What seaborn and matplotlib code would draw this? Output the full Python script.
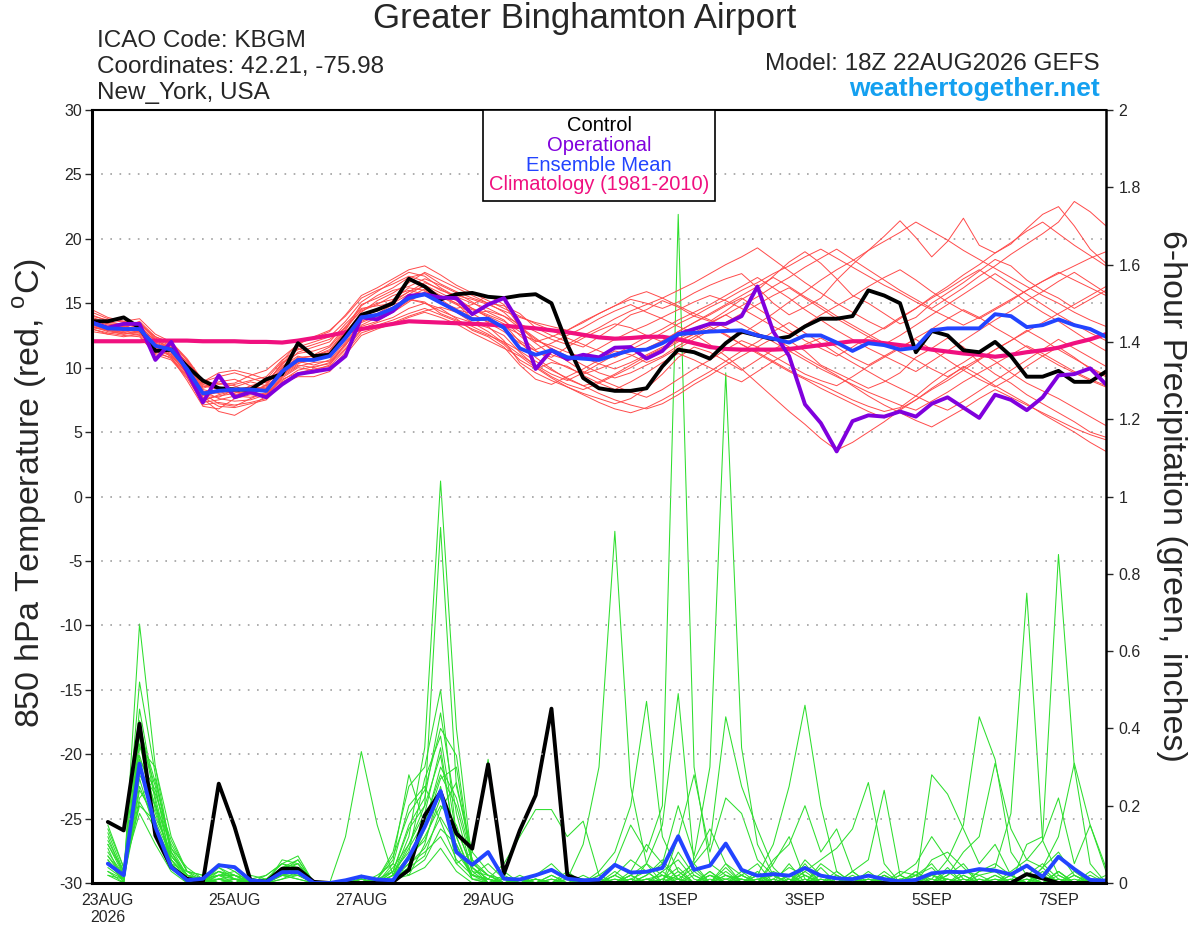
import numpy as np
import pandas as pd
import matplotlib.pyplot as plt
import seaborn as sns
from matplotlib.lines import Line2D

sns.set_style("white")
plt.rcParams['font.family'] = ['Liberation Sans', 'DejaVu Sans']
plt.rcParams['mathtext.fontset'] = 'custom'
plt.rcParams['mathtext.rm'] = 'Liberation Sans'
plt.rcParams['axes.unicode_minus'] = False

# 6-hourly forecast steps of the 18Z 22AUG2026 GEFS run
times = pd.date_range('2026-08-22 18:00', periods=65, freq='6h')
tick_days = ['2026-08-23', '2026-08-25', '2026-08-27', '2026-08-29',
             '2026-09-01', '2026-09-03', '2026-09-05', '2026-09-07']
tick_labels = ['23AUG\n2026', '25AUG', '27AUG', '29AUG', '1SEP', '3SEP', '5SEP', '7SEP']

# 850 hPa temperature (C)
control_t = [13.6, 13.6, 13.9, 13.1, 11.3, 11.4, 10.1, 9.0, 8.4, 8.3, 8.3, 9.1, 9.5, 11.9, 10.9, 11.0, 12.5, 14.1,
             14.5, 15.0, 16.9, 16.3, 15.3, 15.7, 15.8, 15.5, 15.4, 15.6, 15.7, 15.0, 11.8, 9.2, 8.4, 8.2, 8.2,
             8.4, 10.1, 11.4, 11.2, 10.7, 11.9, 12.8, 12.5, 12.2, 12.4, 13.2, 13.8, 13.8, 14.0, 16.0,
             15.6, 15.0, 11.2, 12.85, 12.5, 11.35, 11.2, 12.0, 10.9, 9.3, 9.3, 9.75, 8.9, 8.9, 9.7]
oper_t = [13.5, 13.1, 13.4, 13.4, 10.6, 12.0, 9.7, 7.3, 9.4, 7.7, 8.1, 7.7, 8.7, 9.5, 9.7, 9.9, 10.9, 13.9,
          13.75, 14.4, 15.57, 15.7, 15.44, 15.4, 14.15, 14.9, 15.4, 13.4, 9.9, 11.35, 10.65, 11.0, 10.8, 11.55, 11.6,
          10.7, 11.3, 12.6, 13.0, 13.4, 13.4, 14.0, 16.3, 12.8, 10.9, 7.15, 5.7, 3.5, 5.85, 6.3,
          6.2, 6.6, 6.2, 7.2, 7.7, 6.9, 6.1, 7.9, 7.5, 6.7, 7.7, 9.4, 9.5, 9.95, 8.7]
mean_t = [13.5, 13.05, 13.0, 13.0, 11.7, 11.4, 9.9, 8.0, 8.2, 8.3, 8.3, 8.2, 9.7, 10.6, 10.6, 10.9, 12.3, 13.9,
          14.1, 14.6, 15.4, 15.7, 15.05, 14.4, 13.75, 13.8, 13.1, 11.5, 11.0, 11.35, 10.8, 10.7, 10.6, 11.0, 11.35,
          11.4, 11.9, 12.6, 12.7, 12.8, 12.85, 12.9, 12.5, 12.25, 11.95, 12.5, 12.5, 11.95, 11.3, 11.9,
          11.75, 11.4, 11.55, 12.9, 13.05, 13.05, 13.05, 14.15, 14.0, 13.15, 13.3, 13.75, 13.3, 13.0, 12.4]
clim_t = [12.05, 12.05, 12.05, 12.05, 12.1, 12.1, 12.1, 12.05, 12.05, 12.05, 12.0, 12.0, 11.95, 12.1, 12.3, 12.5, 12.75, 13.0,
          13.2, 13.4, 13.6, 13.55, 13.5, 13.45, 13.4, 13.35, 13.25, 13.15, 13.05, 12.9, 12.75, 12.55, 12.35, 12.25, 12.3,
          12.4, 12.4, 12.2, 11.9, 11.6, 11.45, 11.4, 11.4, 11.4, 11.45, 11.6, 11.75, 11.9, 12.05, 12.05,
          11.9, 11.75, 11.6, 11.4, 11.25, 11.1, 11.0, 10.85, 11.0, 11.2, 11.35, 11.55, 11.9, 12.2, 12.6]

t01 = [13.8, 13.4, 13.2, 12.9, 11.5, 11.0, 9.5, 7.5, 7.8, 8.0, 8.6, 8.9, 10.2, 11.5, 11.0, 11.6, 13.0, 14.5,
       15.0, 15.3, 16.2, 16.0, 15.1, 14.6, 14.9, 15.6, 14.9, 13.2, 12.0, 12.4, 12.9, 13.6, 14.2, 14.8, 15.3,
       15.0, 14.6, 15.1, 15.8, 16.4, 16.9, 17.3, 16.2, 15.0, 14.1, 14.7, 15.4, 16.8, 18.0, 19.1,
       20.2, 21.4, 20.1, 18.6, 19.8, 21.6, 19.5, 18.9, 19.6, 20.8, 21.9, 22.5, 21.0, 19.2, 18.1]
t02 = [13.2, 12.8, 12.6, 12.9, 11.9, 10.8, 9.0, 7.0, 6.8, 7.6, 7.9, 7.8, 9.3, 10.1, 10.4, 10.5, 11.8, 13.2,
       13.6, 14.3, 15.1, 15.9, 15.6, 15.0, 13.8, 13.2, 12.1, 10.4, 9.6, 9.0, 8.5, 8.0, 7.6, 7.2, 7.6,
       8.4, 9.5, 10.8, 11.6, 11.2, 10.5, 9.8, 10.6, 11.4, 12.1, 11.3, 10.2, 9.6, 9.0, 8.4,
       8.9, 9.6, 10.8, 11.5, 12.3, 11.6, 10.4, 9.5, 8.8, 7.9, 7.2, 6.5, 5.8, 5.0, 4.6]
t03 = [14.1, 13.6, 13.3, 13.5, 12.3, 11.8, 10.4, 8.8, 8.5, 8.1, 8.0, 8.4, 9.9, 10.8, 10.9, 11.4, 12.9, 14.8,
       15.6, 16.2, 17.0, 17.3, 16.5, 15.9, 15.4, 15.0, 14.8, 14.2, 13.1, 12.5, 12.0, 11.6, 12.4, 13.2, 14.1,
       14.5, 15.2, 14.7, 14.0, 13.6, 14.4, 15.3, 16.0, 17.1, 18.2, 19.0, 18.1, 16.9, 15.6, 15.0,
       14.2, 13.4, 13.9, 15.0, 15.8, 16.6, 17.5, 18.4, 17.9, 16.8, 16.0, 15.4, 14.6, 15.3, 16.0]
t04 = [13.0, 12.6, 12.9, 12.8, 11.2, 11.3, 10.0, 8.2, 7.6, 7.4, 7.5, 7.9, 9.0, 9.8, 10.1, 10.3, 11.5, 13.0,
       13.5, 13.9, 14.6, 15.0, 14.6, 13.8, 12.9, 12.4, 11.6, 10.2, 9.1, 8.7, 9.3, 9.9, 10.6, 11.3, 11.0,
       10.4, 10.9, 11.7, 12.4, 13.0, 12.6, 11.8, 11.2, 10.5, 9.8, 9.2, 8.7, 8.1, 7.5, 7.0,
       6.6, 6.9, 7.8, 8.8, 9.7, 10.4, 11.2, 10.5, 9.6, 8.8, 8.2, 7.6, 6.9, 6.2, 5.5]
t05 = [13.6, 13.2, 13.0, 13.3, 12.0, 11.5, 10.2, 8.5, 8.9, 9.1, 8.6, 8.3, 10.0, 11.2, 11.6, 12.0, 13.4, 14.6,
       14.8, 15.0, 15.7, 16.4, 15.8, 15.2, 14.6, 14.1, 13.6, 12.8, 11.9, 11.0, 10.6, 10.9, 11.5, 12.2, 12.8,
       13.3, 13.9, 14.5, 15.1, 15.6, 15.2, 14.6, 13.9, 13.2, 12.6, 13.3, 14.1, 14.8, 15.5, 16.3,
       17.0, 17.6, 16.8, 15.9, 15.1, 14.4, 13.8, 14.5, 15.2, 16.0, 16.7, 17.3, 17.9, 18.5, 19.0]
t06 = [13.9, 13.5, 13.4, 13.1, 11.8, 11.2, 9.8, 8.0, 7.2, 7.0, 7.6, 8.1, 9.5, 10.3, 10.8, 11.2, 12.6, 13.8,
       14.2, 14.9, 15.3, 15.1, 14.2, 13.7, 13.2, 12.6, 11.8, 10.6, 9.9, 10.4, 10.1, 9.4, 8.8, 8.3, 8.9,
       9.6, 10.4, 11.1, 10.6, 10.0, 9.4, 8.9, 9.7, 10.5, 11.2, 11.8, 12.3, 11.6, 10.8, 10.2,
       10.9, 11.6, 12.2, 11.4, 10.6, 9.8, 9.1, 8.5, 9.2, 10.1, 10.9, 11.6, 10.8, 9.9, 9.3]
t07 = [12.8, 12.6, 12.4, 12.6, 11.4, 10.9, 9.6, 7.8, 8.1, 8.5, 8.9, 8.6, 9.4, 10.5, 10.2, 10.6, 12.0, 13.5,
       14.0, 14.4, 15.2, 15.8, 15.5, 14.9, 14.2, 13.5, 12.8, 11.9, 11.3, 10.8, 11.6, 12.3, 12.9, 13.4, 13.1,
       12.5, 12.0, 12.8, 13.5, 14.1, 14.8, 15.4, 14.6, 13.8, 12.9, 12.1, 11.5, 10.9, 11.6, 12.4,
       13.1, 13.9, 14.6, 15.4, 16.1, 16.9, 17.6, 16.8, 16.0, 15.1, 14.3, 13.6, 12.8, 12.0, 11.3]
t08 = [14.3, 13.8, 13.5, 13.2, 12.1, 11.6, 10.3, 8.6, 8.3, 7.9, 8.2, 8.6, 10.1, 10.9, 10.5, 11.0, 12.7, 14.3,
       15.2, 15.8, 16.6, 17.4, 16.8, 16.2, 15.6, 15.0, 14.3, 13.2, 12.3, 11.4, 10.5, 9.7, 9.1, 8.6, 8.1,
       7.7, 8.3, 9.1, 9.9, 10.6, 11.4, 12.1, 11.6, 10.9, 10.2, 9.5, 9.0, 8.6, 9.3, 10.1,
       10.8, 11.5, 12.3, 13.0, 13.8, 14.5, 13.9, 13.1, 12.4, 11.6, 10.9, 10.2, 9.6, 9.0, 8.5]
t09 = [13.4, 13.0, 12.8, 12.7, 11.6, 11.1, 9.7, 7.6, 6.6, 6.3, 7.0, 7.8, 9.2, 10.0, 9.8, 10.2, 11.9, 13.3,
       13.9, 14.6, 15.5, 16.1, 15.3, 14.5, 13.9, 13.6, 13.2, 12.6, 12.1, 11.7, 11.2, 10.8, 10.3, 9.9, 10.4,
       11.0, 11.6, 12.2, 12.9, 13.5, 14.1, 13.4, 12.7, 12.0, 11.3, 10.6, 9.9, 9.3, 8.7, 8.1,
       7.6, 7.1, 6.7, 7.4, 8.1, 8.9, 9.6, 10.3, 11.0, 11.7, 11.1, 10.4, 9.7, 9.1, 8.6]
t10 = [13.7, 13.3, 13.1, 13.6, 12.4, 11.9, 10.6, 8.9, 9.3, 9.6, 9.2, 8.8, 10.3, 11.6, 12.0, 12.4, 13.6, 15.1,
       15.9, 16.7, 17.4, 17.1, 16.2, 15.5, 15.0, 14.6, 14.0, 13.4, 12.8, 12.2, 11.8, 12.5, 13.1, 13.8, 14.4,
       14.9, 15.4, 16.0, 16.6, 17.3, 18.0, 18.6, 19.3, 18.4, 17.5, 16.6, 15.8, 15.0, 14.3, 13.6,
       13.0, 13.8, 14.6, 15.5, 16.3, 17.2, 18.0, 18.9, 19.7, 20.6, 21.3, 20.4, 19.5, 18.7, 17.9]
t11 = [13.1, 12.9, 12.7, 12.5, 11.0, 10.6, 9.2, 7.3, 7.5, 7.8, 7.7, 8.0, 9.1, 9.6, 9.9, 10.1, 11.4, 12.9,
       13.3, 13.7, 14.2, 14.6, 14.1, 13.6, 13.0, 12.5, 12.0, 11.3, 10.5, 9.8, 9.2, 8.6, 8.0, 7.5, 7.1,
       6.8, 7.2, 7.9, 8.7, 9.4, 10.2, 10.9, 11.6, 12.3, 11.6, 10.8, 10.1, 9.4, 8.6, 7.8,
       7.1, 6.5, 5.9, 5.4, 6.1, 6.8, 7.6, 8.3, 7.7, 7.1, 6.5, 5.9, 5.3, 4.8, 4.4]
t12 = [13.5, 13.1, 12.9, 13.0, 11.7, 11.3, 10.0, 8.3, 8.0, 8.3, 8.5, 8.4, 9.8, 10.7, 10.9, 11.3, 12.8, 14.0,
       14.4, 15.1, 15.9, 16.3, 15.6, 15.0, 14.5, 14.0, 13.4, 12.0, 10.8, 9.9, 9.1, 8.6, 8.9, 9.5, 10.2,
       10.9, 11.5, 12.1, 12.6, 11.8, 10.9, 9.9, 8.8, 7.7, 6.6, 5.6, 4.5, 3.6, 4.2, 5.0,
       5.8, 6.7, 7.5, 8.4, 9.2, 10.1, 9.4, 8.6, 7.9, 7.2, 6.4, 5.7, 5.0, 4.2, 3.5]
t13 = [14.0, 13.7, 13.6, 13.8, 12.6, 12.0, 10.7, 9.0, 8.7, 8.8, 9.4, 9.8, 10.8, 11.8, 12.4, 12.9, 14.0, 15.4,
       16.0, 16.5, 17.1, 16.7, 16.0, 15.6, 15.3, 14.9, 14.4, 13.9, 13.5, 13.2, 12.9, 13.5, 14.2, 14.8, 15.5,
       15.9, 15.4, 14.8, 14.2, 13.7, 13.1, 12.6, 13.4, 14.2, 15.1, 15.9, 16.8, 17.6, 18.3, 19.1,
       19.8, 20.5, 21.3, 20.6, 19.9, 19.1, 18.4, 17.7, 17.0, 16.3, 15.6, 15.0, 14.3, 13.7, 13.2]
t14 = [13.3, 12.9, 13.0, 12.8, 11.3, 10.7, 9.3, 7.1, 7.3, 7.1, 7.3, 7.6, 8.9, 9.5, 9.6, 9.9, 11.2, 12.7,
       13.1, 13.5, 14.0, 14.4, 14.7, 14.3, 13.5, 12.8, 11.9, 11.0, 10.2, 9.5, 9.0, 9.6, 10.3, 11.0, 11.7,
       12.4, 13.0, 13.7, 14.3, 14.9, 15.6, 16.3, 17.0, 16.2, 15.4, 14.5, 13.7, 12.9, 12.2, 11.5,
       10.9, 10.3, 9.7, 10.5, 11.3, 12.1, 12.9, 13.7, 14.4, 15.2, 15.9, 16.7, 17.4, 16.6, 15.8]
t15 = [13.8, 13.4, 13.3, 12.9, 12.2, 11.7, 10.1, 8.4, 8.8, 8.6, 8.0, 8.7, 10.4, 11.1, 11.3, 11.7, 13.2, 14.4,
       14.9, 15.6, 16.0, 15.7, 15.0, 14.5, 14.2, 14.4, 14.0, 13.1, 12.2, 11.5, 10.9, 10.2, 9.6, 9.2, 9.6,
       10.2, 10.8, 11.5, 12.2, 12.9, 13.5, 14.2, 14.9, 15.6, 16.2, 15.4, 14.6, 13.8, 13.1, 12.4,
       11.8, 12.5, 13.3, 14.1, 14.9, 15.7, 16.5, 17.3, 16.5, 15.7, 14.9, 14.1, 13.4, 12.7, 12.1]
t16 = [13.0, 12.7, 12.5, 12.4, 11.1, 10.8, 9.4, 7.7, 7.0, 6.9, 7.2, 7.5, 8.8, 9.3, 9.3, 9.7, 11.0, 12.5,
       13.0, 13.4, 13.9, 14.3, 13.9, 13.4, 12.7, 12.1, 11.5, 10.9, 10.0, 9.2, 8.5, 7.9, 7.3, 6.8, 6.5,
       6.9, 7.5, 8.2, 9.0, 9.7, 10.5, 11.3, 12.0, 12.8, 13.5, 12.7, 11.9, 11.1, 10.4, 9.7,
       9.0, 8.4, 7.8, 7.2, 6.7, 7.4, 8.2, 9.0, 9.8, 10.6, 11.4, 12.2, 11.5, 10.8, 10.1]
t17 = [13.6, 13.1, 13.2, 13.4, 12.2, 11.4, 10.5, 8.7, 8.4, 8.7, 9.0, 9.3, 10.6, 11.4, 11.8, 12.2, 13.1, 14.9,
       15.4, 16.0, 16.3, 16.9, 16.4, 15.8, 15.1, 14.3, 13.7, 12.5, 11.4, 11.9, 12.5, 13.1, 13.8, 14.4, 14.9,
       14.3, 13.8, 13.2, 12.7, 13.4, 14.1, 14.8, 15.5, 16.3, 17.0, 17.8, 18.5, 19.2, 18.4, 17.6,
       16.8, 16.0, 15.3, 14.6, 15.4, 16.2, 17.1, 17.9, 18.8, 19.6, 20.4, 21.3, 22.9, 22.1, 21.0]
t18 = [13.2, 12.9, 12.6, 12.7, 11.5, 11.0, 9.6, 7.9, 7.7, 8.3, 8.1, 7.9, 9.4, 10.2, 10.0, 10.4, 11.7, 13.6,
       14.1, 14.7, 15.3, 15.0, 14.4, 13.9, 13.5, 13.1, 12.5, 11.2, 10.1, 9.3, 8.7, 8.3, 8.8, 9.4, 10.0,
       10.7, 11.3, 12.0, 12.6, 13.2, 12.5, 11.8, 11.1, 10.4, 9.7, 9.1, 8.4, 7.8, 7.2, 6.6,
       6.1, 6.8, 7.5, 8.3, 9.0, 9.8, 10.6, 11.4, 12.1, 12.9, 12.2, 11.4, 10.7, 10.0, 9.4]
t19 = [14.5, 13.9, 13.6, 13.4, 12.4, 11.9, 10.6, 8.9, 9.6, 9.8, 9.5, 9.1, 10.5, 11.9, 12.3, 12.8, 14.1, 15.6,
       16.2, 16.9, 17.6, 17.9, 17.2, 16.4, 15.8, 15.2, 14.6, 14.0, 13.4, 12.9, 12.3, 11.8, 11.3, 10.8, 11.4,
       12.0, 12.7, 13.4, 14.0, 14.7, 15.3, 16.0, 16.6, 17.3, 17.9, 18.6, 19.2, 18.5, 17.8, 17.1,
       16.4, 15.8, 15.1, 14.5, 13.9, 13.3, 13.9, 14.6, 15.3, 16.0, 16.7, 17.4, 16.8, 16.2, 15.6]
t20 = [13.4, 13.0, 12.7, 13.1, 11.9, 11.5, 9.9, 7.4, 7.9, 8.2, 8.3, 8.5, 9.6, 10.4, 10.7, 11.1, 12.4, 13.9,
       14.5, 15.2, 15.9, 16.6, 16.1, 15.4, 14.6, 13.9, 13.0, 12.1, 11.3, 10.6, 10.0, 9.5, 9.9, 10.4, 10.9,
       11.5, 12.1, 12.8, 13.5, 14.2, 14.9, 15.6, 16.3, 17.0, 16.3, 15.5, 14.8, 14.0, 13.3, 12.6,
       11.9, 11.2, 10.6, 9.9, 9.3, 10.0, 10.7, 11.4, 12.1, 12.8, 13.5, 14.2, 14.9, 15.6, 16.3]

# 6-hour precipitation (inches), valid from the first step onward
control_p = [0.158, 0.136, 0.412, 0.123, 0.041, 0.011, 0.003, 0.257, 0.145, 0.007, 0.003, 0.037, 0.037, 0.003, 0.0, 0.0,
             0.0, 0.0, 0.003, 0.034, 0.175, 0.235, 0.128, 0.089, 0.307, 0.024, 0.136, 0.227, 0.451, 0.02, 0.005, 0.0,
             0.0, 0.0, 0.0, 0.0, 0.0, 0.0, 0.0, 0.0, 0.0, 0.0, 0.0, 0.0, 0.0, 0.0, 0.0, 0.0,
             0.0, 0.0, 0.0, 0.0, 0.0, 0.0, 0.0, 0.0, 0.0, 0.0, 0.023, 0.012, 0.0, 0.0, 0.0, 0.0]
mean_p = [0.05, 0.02, 0.309, 0.145, 0.041, 0.007, 0.011, 0.046, 0.041, 0.007, 0.003, 0.028, 0.028, 0.0, 0.0, 0.007,
          0.017, 0.009, 0.007, 0.067, 0.145, 0.238, 0.08, 0.047, 0.08, 0.011, 0.009, 0.02, 0.034, 0.011, 0.007, 0.009,
          0.047, 0.027, 0.029, 0.039, 0.121, 0.034, 0.045, 0.102, 0.034, 0.019, 0.023, 0.019, 0.039, 0.019, 0.012, 0.010,
          0.019, 0.01, 0.004, 0.008, 0.025, 0.029, 0.028, 0.036, 0.032, 0.022, 0.045, 0.016, 0.068, 0.036, 0.008, 0.006]

p01 = [0.05, 0.01, 0.67, 0.30, 0.08, 0.02, 0.01, 0.03, 0.02, 0.00, 0.00, 0.03, 0.05, 0.00, 0.00, 0.00,
       0.01, 0.00, 0.02, 0.12, 0.35, 1.04, 0.40, 0.05, 0.02, 0.00, 0.00, 0.01, 0.00, 0.00, 0.00, 0.00,
       0.00, 0.02, 0.05, 0.00, 0.08, 0.02, 0.00, 0.04, 0.00, 0.00, 0.01, 0.00, 0.06, 0.02, 0.00, 0.00,
       0.00, 0.03, 0.00, 0.00, 0.00, 0.02, 0.05, 0.00, 0.00, 0.01, 0.00, 0.04, 0.00, 0.02, 0.00, 0.00]
p02 = [0.10, 0.03, 0.45, 0.22, 0.06, 0.01, 0.00, 0.02, 0.01, 0.01, 0.00, 0.04, 0.06, 0.00, 0.00, 0.00,
       0.00, 0.01, 0.08, 0.25, 0.30, 0.50, 0.12, 0.02, 0.05, 0.01, 0.00, 0.00, 0.01, 0.00, 0.00, 0.02,
       0.05, 0.15, 0.08, 0.20, 1.73, 0.30, 0.05, 0.02, 0.01, 0.00, 0.03, 0.01, 0.00, 0.05, 0.02, 0.00,
       0.01, 0.00, 0.00, 0.00, 0.02, 0.01, 0.00, 0.03, 0.05, 0.02, 0.00, 0.00, 0.03, 0.00, 0.01, 0.00]
p03 = [0.03, 0.00, 0.38, 0.25, 0.05, 0.01, 0.01, 0.05, 0.03, 0.00, 0.01, 0.02, 0.03, 0.00, 0.00, 0.00,
       0.02, 0.00, 0.02, 0.10, 0.20, 0.92, 0.25, 0.08, 0.03, 0.00, 0.01, 0.00, 0.00, 0.02, 0.00, 0.00,
       0.00, 0.03, 0.10, 0.05, 0.20, 0.07, 0.30, 1.32, 0.35, 0.10, 0.02, 0.00, 0.04, 0.00, 0.00, 0.03,
       0.00, 0.01, 0.00, 0.02, 0.05, 0.00, 0.00, 0.01, 0.00, 0.00, 0.02, 0.05, 0.01, 0.00, 0.00, 0.02]
p04 = [0.15, 0.04, 0.30, 0.18, 0.07, 0.02, 0.00, 0.01, 0.00, 0.01, 0.02, 0.05, 0.04, 0.00, 0.00, 0.00,
       0.00, 0.02, 0.05, 0.02, 0.10, 0.25, 0.05, 0.01, 0.01, 0.00, 0.00, 0.02, 0.05, 0.01, 0.10, 0.30,
       0.91, 0.25, 0.05, 0.02, 0.01, 0.04, 0.00, 0.01, 0.02, 0.00, 0.05, 0.12, 0.01, 0.00, 0.00, 0.00,
       0.03, 0.00, 0.01, 0.00, 0.00, 0.04, 0.00, 0.00, 0.02, 0.00, 0.01, 0.00, 0.00, 0.03, 0.00, 0.00]
p05 = [0.08, 0.02, 0.28, 0.20, 0.10, 0.03, 0.02, 0.04, 0.02, 0.00, 0.00, 0.06, 0.05, 0.00, 0.00, 0.00,
       0.01, 0.00, 0.03, 0.15, 0.22, 0.44, 0.18, 0.03, 0.00, 0.01, 0.00, 0.00, 0.02, 0.00, 0.00, 0.01,
       0.00, 0.00, 0.02, 0.05, 0.01, 0.00, 0.03, 0.00, 0.02, 0.05, 0.00, 0.01, 0.00, 0.02, 0.00, 0.01,
       0.00, 0.02, 0.00, 0.00, 0.06, 0.08, 0.04, 0.00, 0.01, 0.00, 0.10, 0.12, 0.85, 0.30, 0.05, 0.00]
p06 = [0.02, 0.00, 0.40, 0.26, 0.09, 0.02, 0.00, 0.03, 0.01, 0.00, 0.01, 0.03, 0.02, 0.00, 0.00, 0.00,
       0.00, 0.01, 0.06, 0.28, 0.15, 0.30, 0.22, 0.06, 0.02, 0.00, 0.00, 0.01, 0.00, 0.00, 0.01, 0.00,
       0.02, 0.00, 0.00, 0.03, 0.06, 0.01, 0.00, 0.05, 0.00, 0.01, 0.02, 0.00, 0.03, 0.00, 0.00, 0.02,
       0.00, 0.00, 0.03, 0.02, 0.00, 0.01, 0.00, 0.03, 0.04, 0.18, 0.75, 0.11, 0.02, 0.00, 0.01, 0.00]
p07 = [0.06, 0.01, 0.33, 0.20, 0.05, 0.00, 0.01, 0.02, 0.03, 0.00, 0.00, 0.02, 0.04, 0.00, 0.00, 0.12,
       0.34, 0.15, 0.02, 0.05, 0.08, 0.12, 0.05, 0.08, 0.32, 0.03, 0.00, 0.01, 0.00, 0.00, 0.02, 0.00,
       0.00, 0.01, 0.00, 0.02, 0.00, 0.00, 0.01, 0.00, 0.00, 0.03, 0.00, 0.02, 0.00, 0.00, 0.01, 0.00,
       0.02, 0.00, 0.00, 0.01, 0.00, 0.00, 0.02, 0.00, 0.00, 0.00, 0.01, 0.00, 0.03, 0.00, 0.00, 0.01]
p08 = [0.12, 0.02, 0.25, 0.15, 0.06, 0.02, 0.01, 0.00, 0.00, 0.02, 0.01, 0.04, 0.03, 0.00, 0.00, 0.00,
       0.00, 0.00, 0.04, 0.10, 0.18, 0.35, 0.08, 0.02, 0.01, 0.05, 0.12, 0.19, 0.19, 0.12, 0.16, 0.02,
       0.00, 0.01, 0.03, 0.00, 0.02, 0.05, 0.00, 0.02, 0.00, 0.00, 0.01, 0.04, 0.02, 0.00, 0.00, 0.00,
       0.01, 0.00, 0.00, 0.03, 0.00, 0.00, 0.00, 0.01, 0.00, 0.02, 0.00, 0.00, 0.01, 0.00, 0.00, 0.00]
p09 = [0.04, 0.01, 0.35, 0.30, 0.12, 0.03, 0.00, 0.01, 0.02, 0.01, 0.00, 0.01, 0.02, 0.00, 0.00, 0.00,
       0.01, 0.00, 0.01, 0.04, 0.14, 0.27, 0.30, 0.04, 0.00, 0.00, 0.01, 0.00, 0.00, 0.01, 0.00, 0.03,
       0.08, 0.20, 0.47, 0.12, 0.03, 0.00, 0.02, 0.01, 0.00, 0.02, 0.10, 0.25, 0.46, 0.20, 0.03, 0.00,
       0.00, 0.01, 0.00, 0.00, 0.02, 0.00, 0.00, 0.00, 0.01, 0.00, 0.00, 0.02, 0.00, 0.00, 0.01, 0.00]
p10 = [0.09, 0.00, 0.32, 0.24, 0.08, 0.01, 0.01, 0.02, 0.00, 0.00, 0.02, 0.05, 0.07, 0.00, 0.00, 0.00,
       0.00, 0.01, 0.03, 0.08, 0.27, 0.38, 0.12, 0.01, 0.00, 0.02, 0.00, 0.00, 0.00, 0.00, 0.00, 0.00,
       0.03, 0.00, 0.05, 0.15, 0.49, 0.05, 0.10, 0.43, 0.25, 0.14, 0.04, 0.00, 0.02, 0.00, 0.03, 0.00,
       0.00, 0.00, 0.02, 0.00, 0.00, 0.00, 0.01, 0.00, 0.00, 0.00, 0.00, 0.01, 0.00, 0.02, 0.00, 0.00]
p11 = [0.07, 0.02, 0.22, 0.27, 0.09, 0.04, 0.01, 0.01, 0.01, 0.00, 0.00, 0.02, 0.03, 0.00, 0.00, 0.00,
       0.00, 0.00, 0.02, 0.06, 0.12, 0.20, 0.15, 0.03, 0.02, 0.00, 0.00, 0.00, 0.01, 0.00, 0.00, 0.01,
       0.00, 0.02, 0.00, 0.01, 0.04, 0.00, 0.02, 0.00, 0.01, 0.00, 0.02, 0.00, 0.03, 0.06, 0.09, 0.14,
       0.26, 0.05, 0.00, 0.02, 0.01, 0.06, 0.15, 0.43, 0.32, 0.08, 0.02, 0.00, 0.03, 0.00, 0.01, 0.00]
p12 = [0.11, 0.03, 0.20, 0.16, 0.07, 0.02, 0.01, 0.02, 0.02, 0.00, 0.01, 0.03, 0.04, 0.00, 0.00, 0.00,
       0.02, 0.00, 0.01, 0.05, 0.09, 0.17, 0.10, 0.02, 0.01, 0.00, 0.00, 0.00, 0.00, 0.03, 0.00, 0.00,
       0.02, 0.00, 0.01, 0.00, 0.00, 0.03, 0.00, 0.00, 0.02, 0.00, 0.00, 0.02, 0.00, 0.01, 0.00, 0.03,
       0.06, 0.24, 0.02, 0.00, 0.28, 0.23, 0.14, 0.05, 0.10, 0.02, 0.00, 0.03, 0.00, 0.00, 0.02, 0.00]
p13 = [0.03, 0.01, 0.42, 0.21, 0.04, 0.01, 0.00, 0.04, 0.01, 0.00, 0.00, 0.03, 0.06, 0.00, 0.00, 0.00,
       0.01, 0.00, 0.05, 0.20, 0.25, 0.16, 0.06, 0.02, 0.00, 0.00, 0.01, 0.00, 0.00, 0.00, 0.00, 0.02,
       0.00, 0.01, 0.00, 0.00, 0.02, 0.00, 0.00, 0.03, 0.00, 0.01, 0.00, 0.00, 0.02, 0.00, 0.00, 0.00,
       0.00, 0.02, 0.00, 0.03, 0.00, 0.02, 0.08, 0.12, 0.31, 0.14, 0.06, 0.04, 0.12, 0.31, 0.15, 0.03]
p14 = [0.06, 0.00, 0.27, 0.13, 0.05, 0.03, 0.02, 0.00, 0.00, 0.01, 0.00, 0.02, 0.01, 0.00, 0.00, 0.00,
       0.00, 0.01, 0.00, 0.03, 0.06, 0.14, 0.10, 0.01, 0.00, 0.01, 0.00, 0.00, 0.00, 0.01, 0.00, 0.00,
       0.01, 0.00, 0.02, 0.06, 0.01, 0.00, 0.02, 0.00, 0.03, 0.00, 0.00, 0.05, 0.00, 0.02, 0.00, 0.01,
       0.00, 0.00, 0.01, 0.02, 0.04, 0.00, 0.03, 0.02, 0.00, 0.03, 0.06, 0.11, 0.22, 0.05, 0.15, 0.04]
p15 = [0.14, 0.04, 0.18, 0.10, 0.03, 0.00, 0.00, 0.01, 0.00, 0.00, 0.01, 0.02, 0.02, 0.00, 0.00, 0.00,
       0.00, 0.00, 0.01, 0.02, 0.04, 0.09, 0.03, 0.00, 0.00, 0.00, 0.00, 0.01, 0.00, 0.00, 0.00, 0.00,
       0.00, 0.00, 0.00, 0.01, 0.00, 0.02, 0.00, 0.00, 0.00, 0.00, 0.00, 0.00, 0.01, 0.00, 0.02, 0.00,
       0.01, 0.00, 0.00, 0.00, 0.00, 0.01, 0.00, 0.00, 0.00, 0.01, 0.00, 0.00, 0.02, 0.00, 0.00, 0.00]
p16 = [0.05, 0.02, 0.36, 0.19, 0.06, 0.01, 0.00, 0.02, 0.02, 0.00, 0.00, 0.04, 0.05, 0.00, 0.00, 0.00,
       0.01, 0.00, 0.03, 0.14, 0.20, 0.33, 0.09, 0.02, 0.01, 0.00, 0.00, 0.00, 0.00, 0.00, 0.01, 0.00,
       0.02, 0.06, 0.03, 0.00, 0.12, 0.28, 0.08, 0.22, 0.18, 0.06, 0.02, 0.00, 0.00, 0.01, 0.00, 0.00,
       0.02, 0.00, 0.00, 0.00, 0.01, 0.00, 0.00, 0.00, 0.00, 0.00, 0.02, 0.00, 0.00, 0.01, 0.00, 0.00]
p17 = [0.02, 0.01, 0.24, 0.17, 0.08, 0.02, 0.01, 0.00, 0.01, 0.01, 0.00, 0.01, 0.03, 0.00, 0.00, 0.00,
       0.00, 0.00, 0.02, 0.07, 0.11, 0.22, 0.14, 0.04, 0.01, 0.00, 0.02, 0.00, 0.00, 0.00, 0.00, 0.00,
       0.01, 0.00, 0.00, 0.03, 0.00, 0.06, 0.14, 0.05, 0.02, 0.00, 0.06, 0.10, 0.20, 0.08, 0.14, 0.03,
       0.00, 0.02, 0.00, 0.00, 0.00, 0.00, 0.02, 0.00, 0.00, 0.00, 0.00, 0.02, 0.00, 0.00, 0.00, 0.01]
p18 = [0.10, 0.02, 0.29, 0.23, 0.11, 0.03, 0.01, 0.03, 0.01, 0.00, 0.01, 0.05, 0.03, 0.00, 0.00, 0.00,
       0.00, 0.00, 0.02, 0.09, 0.16, 0.28, 0.20, 0.05, 0.02, 0.01, 0.00, 0.00, 0.02, 0.00, 0.00, 0.00,
       0.00, 0.00, 0.01, 0.00, 0.03, 0.00, 0.00, 0.02, 0.00, 0.02, 0.00, 0.00, 0.00, 0.04, 0.00, 0.00,
       0.00, 0.00, 0.02, 0.05, 0.12, 0.06, 0.01, 0.00, 0.02, 0.00, 0.00, 0.04, 0.08, 0.02, 0.00, 0.00]
p19 = [0.07, 0.01, 0.21, 0.14, 0.04, 0.01, 0.00, 0.01, 0.00, 0.00, 0.00, 0.02, 0.01, 0.00, 0.00, 0.00,
       0.01, 0.00, 0.01, 0.04, 0.07, 0.19, 0.26, 0.06, 0.00, 0.00, 0.00, 0.01, 0.00, 0.00, 0.00, 0.00,
       0.00, 0.02, 0.00, 0.00, 0.01, 0.00, 0.00, 0.00, 0.01, 0.00, 0.00, 0.00, 0.00, 0.00, 0.02, 0.00,
       0.00, 0.00, 0.00, 0.00, 0.00, 0.03, 0.00, 0.00, 0.00, 0.02, 0.00, 0.00, 0.00, 0.00, 0.01, 0.00]
p20 = [0.13, 0.03, 0.52, 0.28, 0.07, 0.02, 0.01, 0.00, 0.01, 0.00, 0.00, 0.03, 0.04, 0.00, 0.00, 0.00,
       0.00, 0.01, 0.07, 0.18, 0.24, 0.40, 0.33, 0.04, 0.01, 0.00, 0.00, 0.00, 0.00, 0.00, 0.00, 0.01,
       0.00, 0.00, 0.01, 0.02, 0.00, 0.00, 0.03, 0.00, 0.00, 0.02, 0.00, 0.00, 0.05, 0.00, 0.00, 0.01,
       0.00, 0.00, 0.01, 0.00, 0.00, 0.00, 0.00, 0.02, 0.03, 0.00, 0.00, 0.00, 0.01, 0.00, 0.03, 0.00]

temp_members = [t01, t02, t03, t04, t05, t06, t07, t08, t09, t10,
                t11, t12, t13, t14, t15, t16, t17, t18, t19, t20]
precip_members = [p01, p02, p03, p04, p05, p06, p07, p08, p09, p10,
                  p11, p12, p13, p14, p15, p16, p17, p18, p19, p20]

ptimes = times[1:]
df_t = pd.DataFrame({'time': np.tile(times, len(temp_members)),
                     'temp': np.concatenate(temp_members),
                     'member': np.repeat(np.arange(len(temp_members)), len(times))})
df_p = pd.DataFrame({'time': np.tile(ptimes, len(precip_members)),
                     'precip': np.concatenate(precip_members),
                     'member': np.repeat(np.arange(len(precip_members)), len(ptimes))})

RED = '#ff4a4a'
GREEN = '#2ede2e'
PURPLE = '#8000dd'
BLUE = '#2244ff'
MAGENTA = '#f0107f'

fig = plt.figure(figsize=(12, 9.27), dpi=100)
W, H = 1200, 927
ax_p = fig.add_axes([92 / W, 1 - 883 / H, (1106 - 92) / W, (883 - 110) / H])
ax_t = ax_p.twinx()

# precipitation (right axis), drawn underneath
sns.lineplot(data=df_p, x='time', y='precip', units='member', estimator=None,
             color=GREEN, lw=0.75, ax=ax_p, legend=False)
sns.lineplot(x=ptimes, y=control_p, color='black', lw=2.8, ax=ax_p)
sns.lineplot(x=ptimes, y=mean_p, color=BLUE, lw=2.8, ax=ax_p)

# temperature (left axis)
ax_t.yaxis.grid(True, linestyle=(0, (1, 4.5)), color='#a0a0a0', lw=1.2)
ax_t.set_axisbelow(True)
sns.lineplot(data=df_t, x='time', y='temp', units='member', estimator=None,
             color=RED, lw=0.7, ax=ax_t, legend=False)
sns.lineplot(x=times, y=clim_t, color=MAGENTA, lw=3, ax=ax_t)
sns.lineplot(x=times, y=control_t, color='black', lw=2.8, ax=ax_t)
sns.lineplot(x=times, y=oper_t, color=PURPLE, lw=2.8, ax=ax_t)
sns.lineplot(x=times, y=mean_t, color=BLUE, lw=2.8, ax=ax_t)

ax_p.set_xlim(times[0], times[-1])
ax_p.set_ylim(0, 2)
ax_t.set_ylim(-30, 30)

ax_p.yaxis.tick_right()
ax_t.yaxis.tick_left()
ax_p.set_yticks(np.arange(0, 2.01, 0.2))
ax_p.set_yticklabels([f'{v:g}' for v in np.arange(0, 2.01, 0.2).round(1)])
ax_t.set_yticks(range(-30, 31, 5))
ax_p.set_xticks(pd.to_datetime(tick_days))
ax_p.set_xticklabels(tick_labels)
ax_p.tick_params(axis='x', direction='out', length=5, width=1, labelsize=11.5, pad=2)
ax_p.tick_params(axis='y', direction='out', length=5, width=1, labelsize=11.5, pad=4)
ax_t.tick_params(axis='y', direction='out', length=5, width=1, labelsize=11.5, pad=2)
for a in (ax_p, ax_t):
    a.set_xlabel('')
    a.set_ylabel('')
for s in ax_p.spines.values():
    s.set_visible(False)
for name, w in [('left', 2.2), ('bottom', 2.2), ('right', 1.8), ('top', 1.5)]:
    ax_t.spines[name].set_linewidth(w)
    ax_t.spines[name].set_color('black')

# text legend box, lines centred
names = ['Control', 'Operational', 'Ensemble Mean', 'Climatology (1981-2010)']
name_colors = ['black', PURPLE, BLUE, MAGENTA]
handles = [Line2D([], [], color=c) for c in name_colors]
leg = ax_t.legend(handles, names, loc='upper center', bbox_to_anchor=(0.5, 1.0),
                  borderaxespad=0, handlelength=0, handletextpad=0, labelspacing=0.04,
                  fontsize=14.5, labelcolor=name_colors, fancybox=False,
                  edgecolor='black', framealpha=1, borderpad=0.3)
leg.get_frame().set_linewidth(1.2)
for h in leg.legend_handles:
    h.set_visible(False)
for col in leg._legend_handle_box.get_children():
    col.align = 'center'

# header texts
fig.text(585 / W, 1 - 28 / H, 'Greater Binghamton Airport', fontsize=25,
         ha='center', va='baseline')
fig.text(97 / W, 1 - 47 / H, 'ICAO Code: KBGM', fontsize=17.5, va='baseline')
fig.text(97 / W, 1 - 73 / H, 'Coordinates: 42.21, -75.98', fontsize=17.5, va='baseline')
fig.text(97 / W, 1 - 99 / H, 'New_York, USA', fontsize=17.5, va='baseline')
fig.text(1100 / W, 1 - 70 / H, 'Model: 18Z 22AUG2026 GEFS', fontsize=17.5,
         ha='right', va='baseline')
fig.text(1100 / W, 1 - 96 / H, 'weathertogether.net', fontsize=19, fontweight='bold',
         color='#14a0f0', ha='right', va='baseline')

fig.text(30 / W, 1 - 493 / H, r'850 hPa Temperature (red, $^{\mathrm{o}}$C)', fontsize=24.5,
         rotation=90, ha='center', va='center')
fig.text(1172 / W, 1 - 496 / H, '6-hour Precipitation (green, inches)', fontsize=24.5,
         rotation=270, ha='center', va='center')

fig.savefig('out.png', dpi=100)
